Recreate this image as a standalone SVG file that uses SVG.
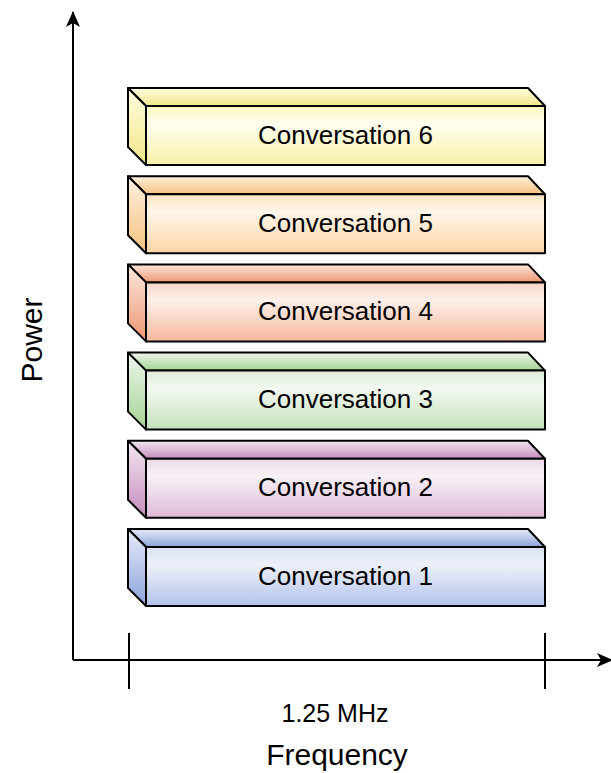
<svg xmlns="http://www.w3.org/2000/svg" width="611" height="773" viewBox="0 0 611 773">
<style>
.face{stroke:#000;stroke-width:2;stroke-linejoin:round}
.lbl{font-family:"Liberation Sans",Arial,sans-serif;font-size:26px;fill:#000;text-anchor:middle}
.axis{stroke:#000;stroke-width:2;fill:none}
.big{font-family:"Liberation Sans",Arial,sans-serif;font-size:30px;fill:#000;text-anchor:middle}
.mid{font-family:"Liberation Sans",Arial,sans-serif;font-size:25px;fill:#000;text-anchor:middle}
</style>
<defs>
<marker id="arr" viewBox="0 0 16 16" refX="15" refY="8" markerWidth="16" markerHeight="16" markerUnits="userSpaceOnUse" orient="auto">
<path d="M0,1 L16,8 L0,15 L4,8 Z" fill="#000"/>
</marker>
<linearGradient id="f6" x1="0" y1="0" x2="0" y2="1"><stop offset="0" stop-color="#fbf7c0"/><stop offset="0.3" stop-color="#fffef0"/><stop offset="1" stop-color="#f8f1a8"/></linearGradient>
<linearGradient id="s6" x1="0" y1="0" x2="0" y2="1"><stop offset="0" stop-color="#fffde0"/><stop offset="1" stop-color="#f2e78a"/></linearGradient>
<linearGradient id="f5" x1="0" y1="0" x2="0" y2="1"><stop offset="0" stop-color="#fde4c4"/><stop offset="0.3" stop-color="#fff5ea"/><stop offset="1" stop-color="#fcd6a6"/></linearGradient>
<linearGradient id="s5" x1="0" y1="0" x2="0" y2="1"><stop offset="0" stop-color="#fff0e0"/><stop offset="1" stop-color="#f5c17e"/></linearGradient>
<linearGradient id="f4" x1="0" y1="0" x2="0" y2="1"><stop offset="0" stop-color="#fad6c6"/><stop offset="0.3" stop-color="#fdf0ea"/><stop offset="1" stop-color="#f6b89c"/></linearGradient>
<linearGradient id="s4" x1="0" y1="0" x2="0" y2="1"><stop offset="0" stop-color="#fde8de"/><stop offset="1" stop-color="#ec9772"/></linearGradient>
<linearGradient id="f3" x1="0" y1="0" x2="0" y2="1"><stop offset="0" stop-color="#dcecd6"/><stop offset="0.3" stop-color="#f3f8f1"/><stop offset="1" stop-color="#c3e2b9"/></linearGradient>
<linearGradient id="s3" x1="0" y1="0" x2="0" y2="1"><stop offset="0" stop-color="#eef6ec"/><stop offset="1" stop-color="#a3d393"/></linearGradient>
<linearGradient id="f2" x1="0" y1="0" x2="0" y2="1"><stop offset="0" stop-color="#eddbe9"/><stop offset="0.3" stop-color="#f8f0f6"/><stop offset="1" stop-color="#ddb9d8"/></linearGradient>
<linearGradient id="s2" x1="0" y1="0" x2="0" y2="1"><stop offset="0" stop-color="#f4e8f1"/><stop offset="1" stop-color="#c48bbd"/></linearGradient>
<linearGradient id="f1" x1="0" y1="0" x2="0" y2="1"><stop offset="0" stop-color="#d8e0f4"/><stop offset="0.3" stop-color="#eef1fa"/><stop offset="1" stop-color="#b2c2ea"/></linearGradient>
<linearGradient id="s1" x1="0" y1="0" x2="0" y2="1"><stop offset="0" stop-color="#e6ebf8"/><stop offset="1" stop-color="#8ba3da"/></linearGradient>
</defs>
<g id="connectors">
<line class="axis" x1="73" y1="660" x2="73" y2="12" marker-end="url(#arr)"/>
<line class="axis" x1="73" y1="660" x2="612" y2="660" marker-end="url(#arr)"/>
<line class="axis" x1="129" y1="633" x2="129" y2="689"/>
<line class="axis" x1="545" y1="633" x2="545" y2="689"/>
</g>
<g id="conv6" transform="translate(0,88)">
<polygon class="face" points="128,0 528,0 545,18 146,18" fill="url(#s6)"/>
<polygon class="face" points="128,0 146,18 146,77 128,59" fill="url(#s6)"/>
<rect class="face" x="146" y="18" width="399" height="59" fill="url(#f6)"/>
<text class="lbl" x="345.5" y="55.5">Conversation 6</text>
</g>
<g id="conv5" transform="translate(0,176.2)">
<polygon class="face" points="128,0 528,0 545,18 146,18" fill="url(#s5)"/>
<polygon class="face" points="128,0 146,18 146,77 128,59" fill="url(#s5)"/>
<rect class="face" x="146" y="18" width="399" height="59" fill="url(#f5)"/>
<text class="lbl" x="345.5" y="55.5">Conversation 5</text>
</g>
<g id="conv4" transform="translate(0,264.4)">
<polygon class="face" points="128,0 528,0 545,18 146,18" fill="url(#s4)"/>
<polygon class="face" points="128,0 146,18 146,77 128,59" fill="url(#s4)"/>
<rect class="face" x="146" y="18" width="399" height="59" fill="url(#f4)"/>
<text class="lbl" x="345.5" y="55.5">Conversation 4</text>
</g>
<g id="conv3" transform="translate(0,352.6)">
<polygon class="face" points="128,0 528,0 545,18 146,18" fill="url(#s3)"/>
<polygon class="face" points="128,0 146,18 146,77 128,59" fill="url(#s3)"/>
<rect class="face" x="146" y="18" width="399" height="59" fill="url(#f3)"/>
<text class="lbl" x="345.5" y="55.5">Conversation 3</text>
</g>
<g id="conv2" transform="translate(0,440.8)">
<polygon class="face" points="128,0 528,0 545,18 146,18" fill="url(#s2)"/>
<polygon class="face" points="128,0 146,18 146,77 128,59" fill="url(#s2)"/>
<rect class="face" x="146" y="18" width="399" height="59" fill="url(#f2)"/>
<text class="lbl" x="345.5" y="55.5">Conversation 2</text>
</g>
<g id="conv1" transform="translate(0,529)">
<polygon class="face" points="128,0 528,0 545,18 146,18" fill="url(#s1)"/>
<polygon class="face" points="128,0 146,18 146,77 128,59" fill="url(#s1)"/>
<rect class="face" x="146" y="18" width="399" height="59" fill="url(#f1)"/>
<text class="lbl" x="345.5" y="55.5">Conversation 1</text>
</g>
<g id="labels">
<text class="mid" x="335" y="722">1.25 MHz</text>
<text class="big" x="337" y="765">Frequency</text>
<text class="big" transform="translate(42,340) rotate(-90)" x="0" y="0">Power</text>
</g>
</svg>
